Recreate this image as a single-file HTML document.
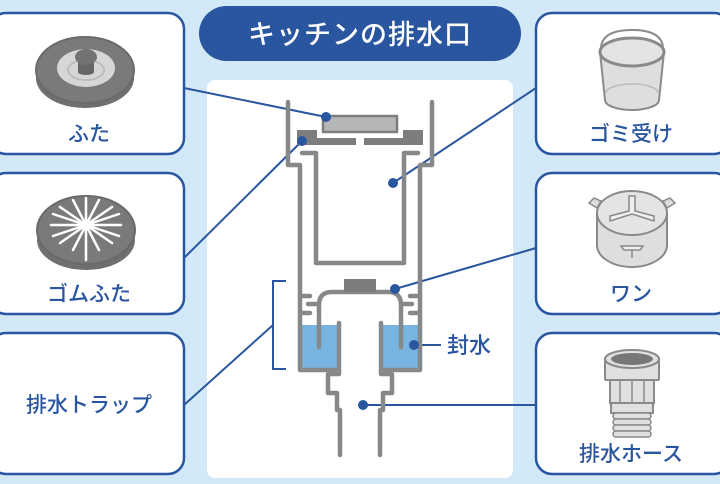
<!DOCTYPE html>
<html><head><meta charset="utf-8"><style>
html,body{margin:0;padding:0;}
body{width:720px;height:479px;overflow:hidden;background:#d3e9f8;font-family:"Liberation Sans","Noto Sans CJK JP",sans-serif;}
</style></head><body>
<svg width="720" height="479" viewBox="0 0 720 479" xmlns="http://www.w3.org/2000/svg" font-family="Liberation Sans, Noto Sans CJK JP, sans-serif">
<rect width="720" height="479" fill="#d3e9f8"/>
<rect x="207" y="80" width="306" height="398" rx="8" fill="#fff"/>
<g stroke="#2a56a0" stroke-width="2" fill="none">
<line x1="326" y1="117" x2="184" y2="88"/>
<line x1="302" y1="141" x2="184" y2="258"/>
<line x1="273" y1="325" x2="184" y2="405"/>
<line x1="393" y1="183" x2="536" y2="88"/>
<line x1="395" y1="289" x2="536" y2="248"/>
<line x1="414" y1="345" x2="441" y2="345"/>
<line x1="363" y1="405" x2="536" y2="405"/>
<polyline points="286,281 273,281 273,369 286,369"/>
</g>
<rect x="199" y="6" width="322" height="55" rx="27.5" fill="#2a56a0"/>
<text x="360" y="44" font-size="27" fill="#fff" text-anchor="middle" font-weight="500" letter-spacing="1">キッチンの排水口</text>
<g fill="#fff" stroke="#2a56a0" stroke-width="2.5">
<rect x="-10" y="13" width="194" height="141" rx="16"/>
<rect x="-10" y="173" width="194" height="141" rx="16"/>
<rect x="-10" y="333" width="194" height="141" rx="16"/>
<rect x="536" y="13" width="194" height="141" rx="16"/>
<rect x="536" y="173" width="194" height="141" rx="16"/>
<rect x="536" y="333" width="194" height="141" rx="16"/>
</g>
<g fill="#2a56a0" font-size="21" font-weight="500" text-anchor="middle">
<text x="89" y="141">ふた</text>
<text x="89" y="301">ゴムふた</text>
<text x="89" y="412">排水トラップ</text>
<text x="631" y="141">ゴミ受け</text>
<text x="631" y="301">ワン</text>
<text x="631" y="461">排水ホース</text>
<text x="469" y="353" font-size="22">封水</text>
</g>
<ellipse cx="85" cy="78" rx="49" ry="30" fill="#6f6f6f"/>
<ellipse cx="85" cy="70" rx="49" ry="33" fill="#7a7a7a" stroke="#6a6a6a" stroke-width="2"/>
<ellipse cx="86" cy="68" rx="29" ry="19" fill="#d6d6d6"/>
<ellipse cx="86" cy="70" rx="18" ry="10" fill="none" stroke="#bdbdbd" stroke-width="2"/>
<rect x="78" y="60" width="16" height="12" fill="#666"/>
<ellipse cx="86" cy="72" rx="8" ry="3" fill="#666"/>
<ellipse cx="86" cy="57" rx="11" ry="8" fill="#737373"/>
<ellipse cx="86" cy="240" rx="49" ry="30" fill="#6f6f6f"/>
<ellipse cx="86" cy="230" rx="49" ry="34" fill="#7a7a7a" stroke="#6a6a6a" stroke-width="2"/>
<g stroke="#fff" stroke-width="2.5" stroke-linecap="round">
<line x1="86" y1="198" x2="86" y2="260"/>
<line x1="51" y1="225" x2="121" y2="225"/>
<line x1="60" y1="207" x2="112" y2="243"/>
<line x1="60" y1="243" x2="112" y2="207"/>
<line x1="73" y1="200" x2="99" y2="250"/>
<line x1="99" y1="200" x2="73" y2="250"/>
<line x1="53" y1="214" x2="119" y2="236"/>
<line x1="53" y1="236" x2="119" y2="214"/>
</g>
<path d="M600 52 L605 100 A27 10 0 0 0 659 100 L664 52" fill="#dedede" stroke="#8a8a8a" stroke-width="2"/>
<ellipse cx="632" cy="52" rx="32" ry="14" fill="#e4e4e4" stroke="#8a8a8a" stroke-width="3"/>
<path d="M606 93 A26 9 0 0 1 658 93" fill="none" stroke="#bbb" stroke-width="1.5"/>
<path d="M601 47 Q603 30 632 30 Q661 30 663 47" fill="none" stroke="#8a8a8a" stroke-width="2"/>
<path d="M597 213 L597 245 A35 22 0 0 0 667 245 L667 213 Z" fill="#dedede" stroke="#8a8a8a" stroke-width="2"/>
<ellipse cx="632" cy="213" rx="35" ry="22" fill="#e4e4e4" stroke="#8a8a8a" stroke-width="2"/>
<path d="M597 208 L589 203 L594 198 L601 201 Z M667 208 L675 203 L670 198 L663 201 Z" fill="#ddd" stroke="#8a8a8a" stroke-width="1.5"/>
<path d="M629 196 L629 211 L610 216 L610 221 L632 214 L654 221 L654 216 L635 211 L635 196 Z" fill="#eee" stroke="#8a8a8a" stroke-width="1.5"/>
<path d="M621 246 L643 246 L640 250 L624 250 Z M632 250 L632 258" fill="#eee" stroke="#8a8a8a" stroke-width="1.5"/>
<rect x="610" y="379" width="44" height="24" fill="#e0e0e0" stroke="#8a8a8a" stroke-width="2"/>
<g stroke="#8a8a8a" stroke-width="1.5"><line x1="620" y1="380" x2="620" y2="402"/><line x1="632" y1="380" x2="632" y2="402"/><line x1="644" y1="380" x2="644" y2="402"/></g>
<rect x="605" y="359" width="54" height="21" fill="#e0e0e0"/>
<line x1="605" y1="359" x2="605" y2="380" stroke="#8a8a8a" stroke-width="2"/><line x1="659" y1="359" x2="659" y2="380" stroke="#8a8a8a" stroke-width="2"/>
<line x1="605" y1="380" x2="659" y2="380" stroke="#8a8a8a" stroke-width="2"/>
<ellipse cx="632" cy="359" rx="27" ry="9" fill="#e0e0e0" stroke="#8a8a8a" stroke-width="2"/>
<ellipse cx="632" cy="359" rx="21" ry="6" fill="#777"/>
<rect x="611" y="403" width="42" height="10" fill="#e0e0e0" stroke="#8a8a8a" stroke-width="2"/>
<g fill="#e0e0e0" stroke="#8a8a8a" stroke-width="1.5">
<rect x="613" y="413" width="38" height="6" rx="3"/><rect x="613" y="419" width="38" height="6" rx="3"/><rect x="613" y="425" width="38" height="6" rx="3"/><rect x="613" y="431" width="38" height="6" rx="3"/>
</g>
<rect x="302" y="325" width="38" height="44" fill="#78b4e0"/>
<rect x="380" y="325" width="38" height="44" fill="#78b4e0"/>
<g stroke="#878889" stroke-width="4.5" fill="none" stroke-linecap="round" stroke-linejoin="round">
<polyline points="288,102 288,165 300,165 300,370 339,370 339,323"/>
<polyline points="432,102 432,165 420,165 420,370 381,370 381,323"/>
<polyline points="339,370 339,374 328,374 328,393 337,393 337,410 340,410 340,455"/>
<polyline points="381,370 381,374 392,374 392,393 383,393 383,410 380,410 380,455"/>
<polyline points="302,153 316,153 316,263 404,263 404,153 418,153"/>
<path d="M319 347 L319 305 Q319 292 332 292 L388 292 Q401 292 401 305 L401 347"/>
<line x1="302" y1="296" x2="310" y2="296"/><line x1="308" y1="304" x2="316" y2="304"/><line x1="302" y1="313" x2="310" y2="313"/>
<line x1="418" y1="296" x2="410" y2="296"/><line x1="412" y1="304" x2="404" y2="304"/><line x1="418" y1="313" x2="410" y2="313"/>
</g>
<rect x="344" y="279" width="32" height="13" fill="#7c7d7e"/>
<g fill="#7c7d7e">
<rect x="297" y="130" width="20" height="10"/><rect x="297" y="138" width="59" height="7"/>
<rect x="403" y="130" width="20" height="10"/><rect x="364" y="138" width="59" height="7"/>
</g>
<rect x="323" y="116" width="74" height="16" fill="#b5b6b7" stroke="#7c7d7e" stroke-width="2.5"/>
<g fill="#2a56a0">
<circle cx="326" cy="117" r="5"/><circle cx="302" cy="141" r="5"/><circle cx="393" cy="183" r="5"/>
<circle cx="395" cy="289" r="5"/><circle cx="414" cy="345" r="5"/><circle cx="363" cy="405" r="5"/>
</g>
</svg>
</body></html>
